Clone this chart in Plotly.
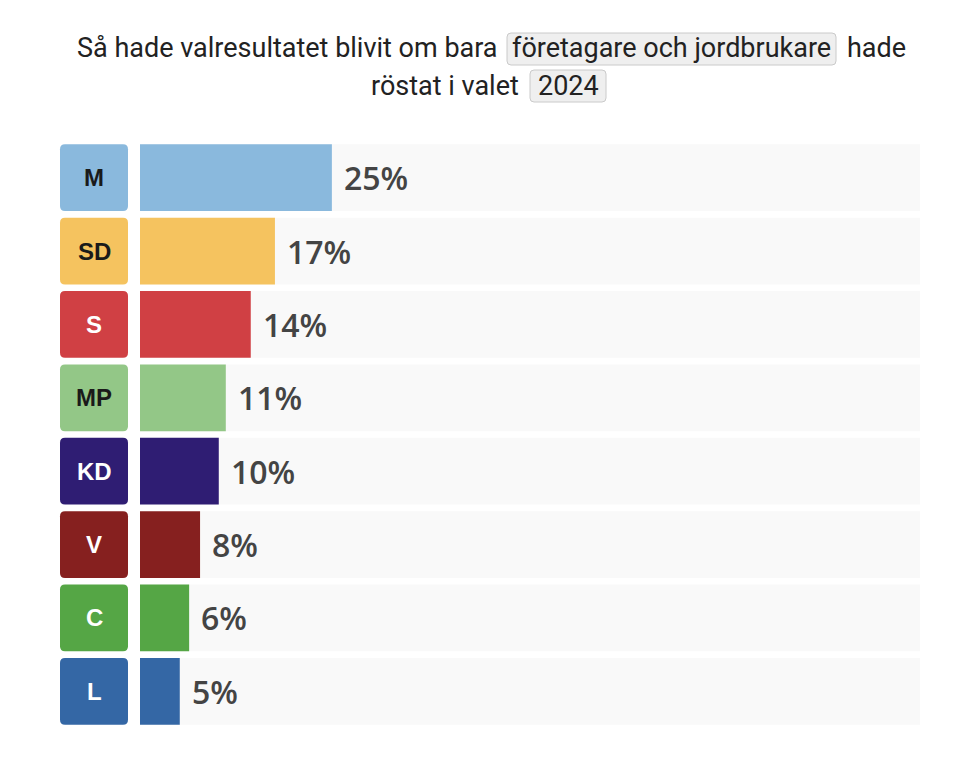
import plotly.graph_objects as go

parties = ["M", "SD", "S", "MP", "KD", "V", "C", "L"]
values = [24.6, 17.3, 14.2, 11.0, 10.1, 7.7, 6.3, 5.1]
labels = ["25%", "17%", "14%", "11%", "10%", "8%", "6%", "5%"]
party_colors = ["#8ab9dd", "#f5c35f", "#d04044", "#93c787", "#2f1d73", "#86201f", "#55a645", "#3467a5"]
text_colors = ["#1a1a1a", "#1a1a1a", "#ffffff", "#1a1a1a", "#ffffff", "#ffffff", "#ffffff", "#ffffff"]
max_value = 100

W, H = 976, 760
ML, MR, MT, MB = 140, 56, 141, 32
PW, PH = W - ML - MR, H - MT - MB


def px_x(px):
    return (px - ML) / PW


def px_y(py):
    return 1 - (py - MT) / PH


def rounded(x0, y0, x1, y1, rx, ry):
    # y0 < y1 assumed in the given units; works either direction
    sy = 1 if y1 > y0 else -1
    return (f"M {x0+rx},{y0} L {x1-rx},{y0} Q {x1},{y0} {x1},{y0+sy*ry} "
            f"L {x1},{y1-sy*ry} Q {x1},{y1} {x1-rx},{y1} L {x0+rx},{y1} "
            f"Q {x0},{y1} {x0},{y1-sy*ry} L {x0},{y0+sy*ry} Q {x0},{y0} {x0+rx},{y0} Z")


idx = list(range(len(parties)))

fig = go.Figure()
fig.add_trace(go.Bar(y=idx, x=[max_value] * len(idx), orientation="h",
                     marker=dict(color="#f9f9f9", line=dict(width=0)), hoverinfo="skip"))
fig.add_trace(go.Bar(y=idx, x=values, orientation="h",
                     marker=dict(color=party_colors, line=dict(width=0)),
                     customdata=labels, hovertemplate="%{customdata}<extra></extra>"))

half = 0.455
rx = 5 / PW
ry = 5 / (PH / len(idx))
bx0, bx1 = px_x(60), px_x(128)
shapes = []
annotations = []
for i, p in enumerate(parties):
    shapes.append(dict(type="path", path=rounded(bx0, i - half, bx1, i + half, rx, ry),
                       xref="paper", yref="y",
                       fillcolor=party_colors[i], line=dict(width=0), layer="above"))
    annotations.append(dict(x=(bx0 + bx1) / 2, y=i, xref="paper", yref="y", text=f"<b>{p}</b>",
                            xanchor="center", yanchor="middle", showarrow=False,
                            font=dict(family="Liberation Sans, Arial", size=24,
                                      color=text_colors[i])))
    annotations.append(dict(x=values[i], y=i, xref="x", yref="y", text=labels[i], xanchor="left",
                            yanchor="middle", xshift=10, showarrow=False,
                            font=dict(family="Open Sans", size=32, color="#444444", weight=600)))

# title highlight boxes (rounded)
trx, tr_y = 4 / PW, 4 / PH
for (l, t, r, b) in [(507, 33, 836, 65), (530, 70, 606, 102)]:
    shapes.append(dict(type="path", path=rounded(px_x(l), px_y(t), px_x(r), px_y(b), trx, tr_y),
                       xref="paper", yref="paper", fillcolor="#efefef",
                       line=dict(color="#cacaca", width=1), layer="above"))

tfont = dict(family="Roboto", size=27, color="#222222")
# title line 1
annotations.append(dict(x=px_x(500), y=px_y(48), xref="paper", yref="paper", xanchor="right",
                        yanchor="middle", text="Så hade valresultatet blivit om bara",
                        showarrow=False, font=tfont))
annotations.append(dict(x=px_x(671.5), y=px_y(48), xref="paper", yref="paper", xanchor="center",
                        yanchor="middle", text="företagare och jordbrukare", showarrow=False,
                        font=tfont))
annotations.append(dict(x=px_x(845), y=px_y(48), xref="paper", yref="paper", xanchor="left",
                        yanchor="middle", text="hade", showarrow=False, font=tfont))
# title line 2
annotations.append(dict(x=px_x(521), y=px_y(86), xref="paper", yref="paper", xanchor="right",
                        yanchor="middle", text="röstat i valet", showarrow=False, font=tfont))
annotations.append(dict(x=px_x(568), y=px_y(86), xref="paper", yref="paper", xanchor="center",
                        yanchor="middle", text="2024", showarrow=False, font=tfont))

fig.update_layout(
    width=W, height=H, margin=dict(l=ML, r=MR, t=MT, b=MB),
    paper_bgcolor="white", plot_bgcolor="white",
    barmode="overlay", bargap=0.09, showlegend=False,
    xaxis=dict(range=[0, max_value], visible=False, fixedrange=True),
    yaxis=dict(range=[len(idx) - 0.5, -0.5], visible=False, fixedrange=True),
    shapes=shapes, annotations=annotations,
)
fig.write_html("out.html", config={"displayModeBar": False})
